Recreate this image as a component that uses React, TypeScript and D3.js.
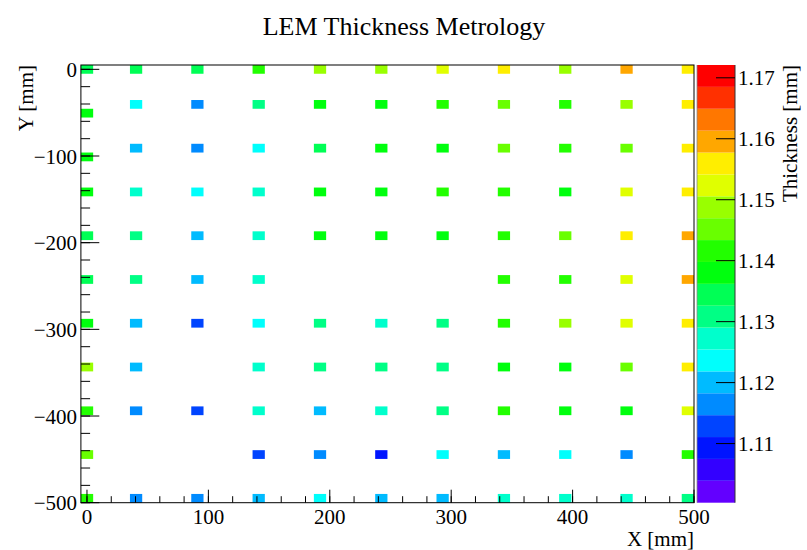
import React from 'react';
import * as d3 from 'd3';

// ---- histogram definition (mm) ----
const xMin = -5;
const xMax = 500;
const yMin = -500;
const yMax = 5;
const nBinsX = 50;
const nBinsY = 50;

// colour scale limits and contour count (mm)
const zMin = 1.1003;
const zMax = 1.1721;
const nContours = 20;

const chartTitle = 'LEM Thickness Metrology';
const xTitle = 'X [mm]';
const yTitle = 'Y [mm]';
const zTitle = 'Thickness [mm]';

const xTicks = [0, 100, 200, 300, 400, 500];
const yTicks = [0, -100, -200, -300, -400, -500];
const zTicks = [1.11, 1.12, 1.13, 1.14, 1.15, 1.16, 1.17];

// measurement positions (mm)
const xPositions = [0, 45, 95, 145, 195, 245, 295, 345, 395, 445, 495];
const yPositions = [0, -45, -95, -145, -195, -245, -295, -345, -395, -445, -495];
const yPositionsFirstColumn = [0, -50, -100, -145, -195, -245, -295, -345, -395, -445, -495];

// thickness readings (mm), one array per row from top to bottom; null = no reading
const row0 = [1.1344, 1.1339, 1.1351, 1.1415, 1.1486, 1.1492, 1.1521, 1.1558, 1.1483, 1.1597, 1.1562];
const row1 = [1.1379, 1.1236, 1.1166, 1.1309, 1.1383, 1.1376, 1.1418, 1.1452, 1.1413, 1.1489, 1.156];
const row2 = [1.1381, 1.1199, 1.1163, 1.1238, 1.1345, 1.1385, 1.1378, 1.1449, 1.142, 1.1455, 1.1557];
const row3 = [1.1374, 1.1271, 1.1234, 1.1275, 1.1382, 1.1386, 1.1417, 1.1411, 1.138, 1.1525, 1.1563];
const row4 = [1.1342, 1.1307, 1.1202, 1.127, 1.1377, 1.1384, 1.1388, 1.1419, 1.1451, 1.1559, 1.1594];
const row5 = [1.1348, 1.1305, 1.1197, 1.1273, null, null, null, 1.1414, 1.1421, 1.1523, 1.1599];
const row6 = [1.1385, 1.1201, 1.1128, 1.1237, 1.1311, 1.1274, 1.1306, 1.1416, 1.1487, 1.152, 1.1561];
const row7 = [1.149, 1.1198, null, 1.1276, 1.1308, 1.1312, 1.1304, 1.1381, 1.1375, 1.1448, 1.1556];
const row8 = [1.1412, 1.1164, 1.1126, 1.1268, 1.1203, 1.1273, 1.131, 1.1419, 1.1384, 1.1379, 1.1527];
const row9 = [1.1453, null, null, 1.1131, 1.1168, 1.1094, 1.1239, 1.1196, 1.1233, 1.1161, 1.1415];
const row10 = [1.1418, 1.1167, 1.1162, 1.1204, 1.124, 1.12, 1.1195, 1.1269, 1.1277, 1.1271, 1.1313];

const thicknessRows = [row0, row1, row2, row3, row4, row5, row6, row7, row8, row9, row10];

// ---- layout ----
const W = 807;
const H = 550;
const frameLeft = 80.9;
const frameRight = 694;
const frameTop = 65;
const frameBottom = 502.7;
const barLeft = 697;
const barRight = 735;
const font = "'Liberation Serif', 'Times New Roman', serif";

// rainbow palette: 50 fully saturated hues from violet to red
const paletteSize = 50;
const paletteColor = (i: number) => {
  const hue = 280 - (i + 1) * (280 / paletteSize);
  return d3.hsl(hue, 1, 0.5).formatHex();
};
const contourColor = (level: number) => {
  const idx = Math.floor(((level + 0.99) * paletteSize) / nContours);
  return paletteColor(Math.min(paletteSize - 1, idx));
};
const levelOf = (z: number) =>
  Math.max(0, Math.min(nContours - 1, Math.floor(((z - zMin) / (zMax - zMin)) * nContours)));

const fmtMinus = (v: number) => (v < 0 ? '\u2212' + Math.abs(v) : String(v));

export default function App() {
  const x = d3.scaleLinear().domain([xMin, xMax]).range([frameLeft, frameRight]);
  const y = d3.scaleLinear().domain([yMin, yMax]).range([frameBottom, frameTop]);
  const z = d3.scaleLinear().domain([zMin, zMax]).range([frameBottom, frameTop]);

  const bwX = (xMax - xMin) / nBinsX;
  const bwY = (yMax - yMin) / nBinsY;

  type Cell = { k: string; x0: number; x1: number; y0: number; y1: number; v: number };
  const cells: Cell[] = [];
  thicknessRows.forEach((row, r) => {
    row.forEach((v, c) => {
      if (v == null) return;
      const px = xPositions[c];
      const py = c === 0 ? yPositionsFirstColumn[r] : yPositions[r];
      const kx = Math.floor((px - xMin) / bwX);
      const ky = Math.floor((py - yMin) / bwY);
      cells.push({
        k: `${r}-${c}`,
        x0: xMin + kx * bwX,
        x1: xMin + (kx + 1) * bwX,
        y0: yMin + ky * bwY,
        y1: yMin + (ky + 1) * bwY,
        v,
      });
    });
  });

  const xMinor = d3.range(0, 501, 20);
  const yMinor = d3.range(0, -501, -20);
  const xMajorLen = 13;
  const xMinorLen = 6.5;
  const yMajorLen = 18.4;
  const yMinorLen = 9.2;

  const levels = d3.range(nContours);
  const levelEdge = (j: number) => zMin + ((zMax - zMin) * j) / nContours;

  return (
    <div style={{ position: 'fixed', left: 0, top: 0 }}>
      <svg width={W} height={H} viewBox={`0 0 ${W} ${H}`} style={{ display: 'block', background: '#fff' }}>
        <rect x={0} y={0} width={W} height={H} fill="#fff" />
        <text x={404} y={35} textAnchor="middle" fontFamily={font} fontSize={26} fill="#000">
          {chartTitle}
        </text>

        {/* filled bins */}
        <g>
          {cells.map((d) => (
            <rect
              key={d.k}
              x={x(d.x0)}
              y={y(d.y1)}
              width={x(d.x1) - x(d.x0)}
              height={y(d.y0) - y(d.y1)}
              fill={contourColor(levelOf(d.v))}
            />
          ))}
        </g>

        {/* frame */}
        <rect
          x={frameLeft}
          y={frameTop}
          width={frameRight - frameLeft}
          height={frameBottom - frameTop}
          fill="none"
          stroke="#000"
          strokeWidth={1}
        />

        {/* x axis */}
        <g stroke="#000" strokeWidth={1}>
          {xMinor.map((t) => (
            <line key={`xm${t}`} x1={x(t)} x2={x(t)} y1={frameBottom} y2={frameBottom - xMinorLen} />
          ))}
          {xTicks.map((t) => (
            <line key={`xM${t}`} x1={x(t)} x2={x(t)} y1={frameBottom} y2={frameBottom - xMajorLen} />
          ))}
        </g>
        <g fontFamily={font} fontSize={21} fill="#000" textAnchor="middle">
          {xTicks.map((t) => (
            <text key={`xl${t}`} x={x(t)} y={frameBottom + 21.5}>
              {fmtMinus(t)}
            </text>
          ))}
        </g>
        <text x={frameRight} y={546} textAnchor="end" fontFamily={font} fontSize={21} fill="#000">
          {xTitle}
        </text>

        {/* y axis */}
        <g stroke="#000" strokeWidth={1}>
          {yMinor.map((t) => (
            <line key={`ym${t}`} x1={frameLeft} x2={frameLeft + yMinorLen} y1={y(t)} y2={y(t)} />
          ))}
          {yTicks.map((t) => (
            <line key={`yM${t}`} x1={frameLeft} x2={frameLeft + yMajorLen} y1={y(t)} y2={y(t)} />
          ))}
        </g>
        <g fontFamily={font} fontSize={21} fill="#000" textAnchor="end">
          {yTicks.map((t) => (
            <text key={`yl${t}`} x={77} y={y(t) + 7.5}>
              {fmtMinus(t)}
            </text>
          ))}
        </g>
        <text
          transform={`translate(33, ${frameTop}) rotate(-90)`}
          textAnchor="end"
          fontFamily={font}
          fontSize={21}
          fill="#000"
        >
          {yTitle}
        </text>

        {/* colour bar */}
        <g>
          {levels.map((j) => (
            <rect
              key={`lv${j}`}
              x={barLeft}
              y={z(levelEdge(j + 1))}
              width={barRight - barLeft}
              height={z(levelEdge(j)) - z(levelEdge(j + 1))}
              fill={contourColor(j)}
            />
          ))}
          <line x1={barRight} x2={barRight} y1={frameTop} y2={frameBottom} stroke="#333" strokeWidth={1} />
          <line x1={barLeft} x2={barLeft} y1={frameTop} y2={frameBottom} stroke="#888" strokeWidth={0.8} />
          {zTicks.map((t) => (
            <line key={`zt${t}`} x1={barRight} x2={barRight - 19} y1={z(t)} y2={z(t)} stroke="#000" strokeWidth={1} />
          ))}
          <g fontFamily={font} fontSize={21} fill="#000" textAnchor="start">
            {zTicks.map((t) => (
              <text key={`zl${t}`} x={738} y={z(t) + 7.5}>
                {t.toFixed(2)}
              </text>
            ))}
          </g>
          <text
            transform={`translate(797, ${frameTop}) rotate(-90)`}
            textAnchor="end"
            fontFamily={font}
            fontSize={21}
            fill="#000"
          >
            {zTitle}
          </text>
        </g>
      </svg>
    </div>
  );
}
